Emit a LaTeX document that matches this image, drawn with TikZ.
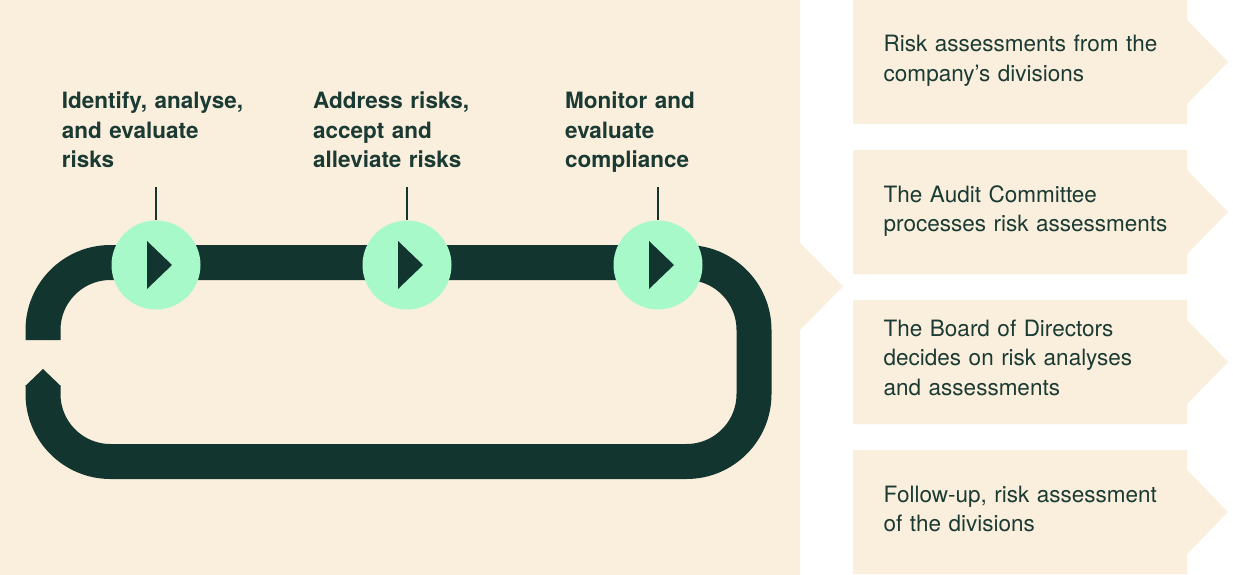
\documentclass[tikz,border=0pt]{standalone}
\usepackage{fontspec}
\setmainfont{TeX Gyre Heros}
\definecolor{sand}{HTML}{FAEFDC}
\definecolor{pine}{HTML}{133530}
\definecolor{mint}{HTML}{A8F9C9}
\definecolor{ink}{HTML}{1A3A33}
\tikzset{
  track/.style={draw=pine, line width=35pt, line cap=butt, rounded corners=67.5pt},
  stage/.style={circle, fill=mint, minimum size=89pt, inner sep=0pt},
  steplabel/.style={anchor=base west, inner sep=0pt, text width=200pt, align=left,
    font=\bfseries\fontsize{22.5}{29.3}\selectfont, text=ink},
  boxtext/.style={anchor=base west, inner sep=0pt, text width=300pt, align=left,
    font=\fontsize{22.5}{29.7}\selectfont, text=ink},
  tick/.style={draw=pine, line width=2pt},
  panel/.style={fill=sand}
}
\begin{document}
\begin{tikzpicture}[x=1pt, y=-1pt]
  \useasboundingbox (0,0) rectangle (1233,575);
  \fill[white] (0,0) rectangle (1233,575);

  % main panel with its arrow notch
  \fill[panel] (0,0) -- (800,0) -- (800,243) -- (843,286.5) -- (800,330)
    -- (800,575) -- (0,575) -- cycle;

  % right-hand step boxes
  \foreach \t in {0,150,300,450}{
    \fill[panel] (853,\t) -- (1187,\t) -- (1187,\t+20) -- (1228,\t+62)
      -- (1187,\t+104) -- (1187,\t+124) -- (853,\t+124) -- cycle;
  }

  % loop track with a gap on the left
  \draw[track] (43,340) -- (43,262.5) -- (754,262.5) -- (754,461.5)
    -- (43,461.5) -- (43,386);
  \fill[pine] (25,386.2) -- (43,369) -- (61,386.2) -- cycle;

  % stages on the loop
  \foreach \n/\x in {s1/156, s2/407, s3/658}{
    \node[stage] (\n) at (\x,265) {};
    \fill[pine] ([xshift=-9pt,yshift=24pt]\n.center) -- ([xshift=16pt]\n.center)
      -- ([xshift=-9pt,yshift=-24pt]\n.center) -- cycle;
  }

  % stage labels and leader ticks
  \node[steplabel] (l1) at (61.7,109) {Identify, analyse,\\and evaluate\\risks};
  \node[steplabel] (l2) at (313,109) {Address risks,\\accept and\\alleviate risks};
  \node[steplabel] (l3) at (565,109) {Monitor and\\evaluate\\compliance};
  \coordinate (t1) at (156,187);
  \coordinate (t2) at (407,187);
  \coordinate (t3) at (658,187);
  \draw[tick] (t1) -- (s1.north);
  \draw[tick] (t2) -- (s2.north);
  \draw[tick] (t3) -- (s3.north);

  % box texts
  \node[boxtext] (b1) at (883.5,52) {Risk assessments from the\\company’s divisions};
  \node[boxtext] (b2) at (883.5,202) {The Audit Committee\\processes risk assessments};
  \node[boxtext] (b3) at (883.5,336) {The Board of Directors\\decides on risk analyses\\and assessments};
  \node[boxtext] (b4) at (883.5,502) {Follow-up, risk assessment\\of the divisions};
\end{tikzpicture}
\end{document}
